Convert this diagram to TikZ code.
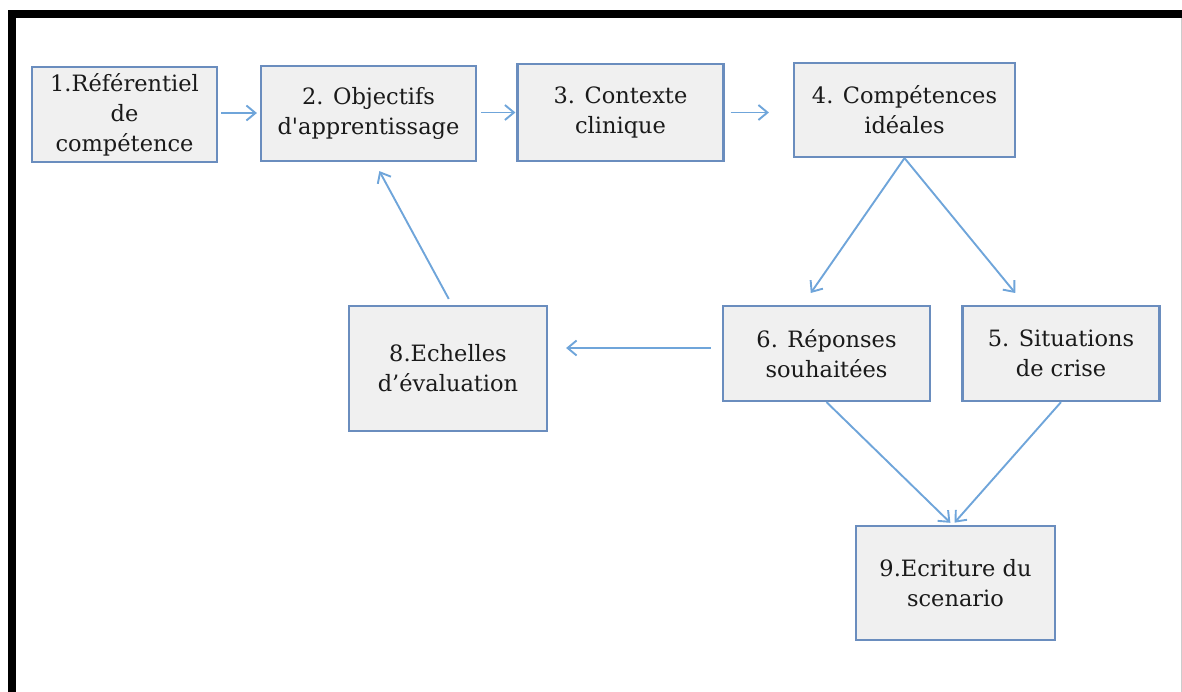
\documentclass[tikz,border=0pt]{standalone}
\usepackage{fontspec}
\setmainfont{DejaVu Serif}
\usetikzlibrary{arrows.meta,calc}
\definecolor{boxfill}{HTML}{F0F0F0}
\definecolor{boxline}{HTML}{6A8DBE}
\definecolor{arrowblue}{HTML}{6FA5DA}
\definecolor{inkgray}{HTML}{1A1A1A}
\begin{document}
\begin{tikzpicture}[x=1pt,y=-1pt,
  stepbox/.style={draw=boxline,fill=boxfill,line width=2.2pt,inner sep=0pt,
    align=center,text=inkgray,font=\fontsize{22.5}{30}\selectfont},
  link/.style={draw=arrowblue,line width=1.9pt,
    -{Straight Barb[length=9pt,width=15pt,line width=1.9pt]}}]
\useasboundingbox (0,0) rectangle (1182,692);
% page frame
\fill[black] (8,10) rectangle (1182,18);
\fill[black] (8,10) rectangle (16,692);
\draw[gray!40,line width=1pt] (1181,18) -- (1181,692);
% steps
\node[stepbox,minimum width=185pt,minimum height=95pt] (n1) at (124.5,114.5) {1.Référentiel\\de\\compétence};
\node[stepbox,minimum width=215pt,minimum height=95pt] (n2) at (368.5,113.5) {2. Objectifs\\d\textquotesingle apprentissage};
\node[stepbox,minimum width=206pt,minimum height=97pt] (n3) at (620.5,112.5) {3. Contexte\\clinique};
\node[stepbox,minimum width=221pt,minimum height=94pt] (n4) at (904.5,110) {4. Compétences\\idéales};
\node[stepbox,minimum width=198pt,minimum height=125pt] (n8) at (448,368.5) {8.Echelles\\d’évaluation};
\node[stepbox,minimum width=207pt,minimum height=95pt] (n6) at (826.5,353.5) {6. Réponses\\souhaitées};
\node[stepbox,minimum width=197pt,minimum height=95pt] (n5) at (1061,353.5) {5. Situations\\de crise};
\node[stepbox,minimum width=199pt,minimum height=114pt] (n9) at (955.5,583) {9.Ecriture du\\scenario};
% flow
\draw[link,shorten <=3pt,shorten >=3pt] ([yshift=1.5pt]n1.east) -- ([yshift=1.5pt]n1.east -| n2.west);
\draw[link,shorten <=4pt,shorten >=1pt] ([yshift=1pt]n2.east) -- ([yshift=1pt]n2.east -| n3.west);
\draw[link,shorten <=6pt,shorten >=24pt] (n3.east) -- (n3.east -| n4.west);
\draw[link,shorten >=14.5pt] (n4.south) -- ($(n6.north)+(-24,0)$);
\draw[link,shorten >=15.4pt] (n4.south) -- ($(n5.north)+(-36,0)$);
\draw[link,shorten <=11pt,shorten >=18pt] ([yshift=5.5pt]n6.west) -- ([yshift=5.5pt]n6.west -| n8.east);
\draw[link,shorten <=6.8pt,shorten >=10.2pt] ($(n8.north)+(4,0)$) -- ($(n2.south)+(6,0)$);
\draw[link,shorten >=3pt] (n6.south) -- ($(n9.north)+(-3,0)$);
\draw[link,shorten >=3pt] (n5.south) -- ($(n9.north)+(-3,0)$);
\end{tikzpicture}
\end{document}
